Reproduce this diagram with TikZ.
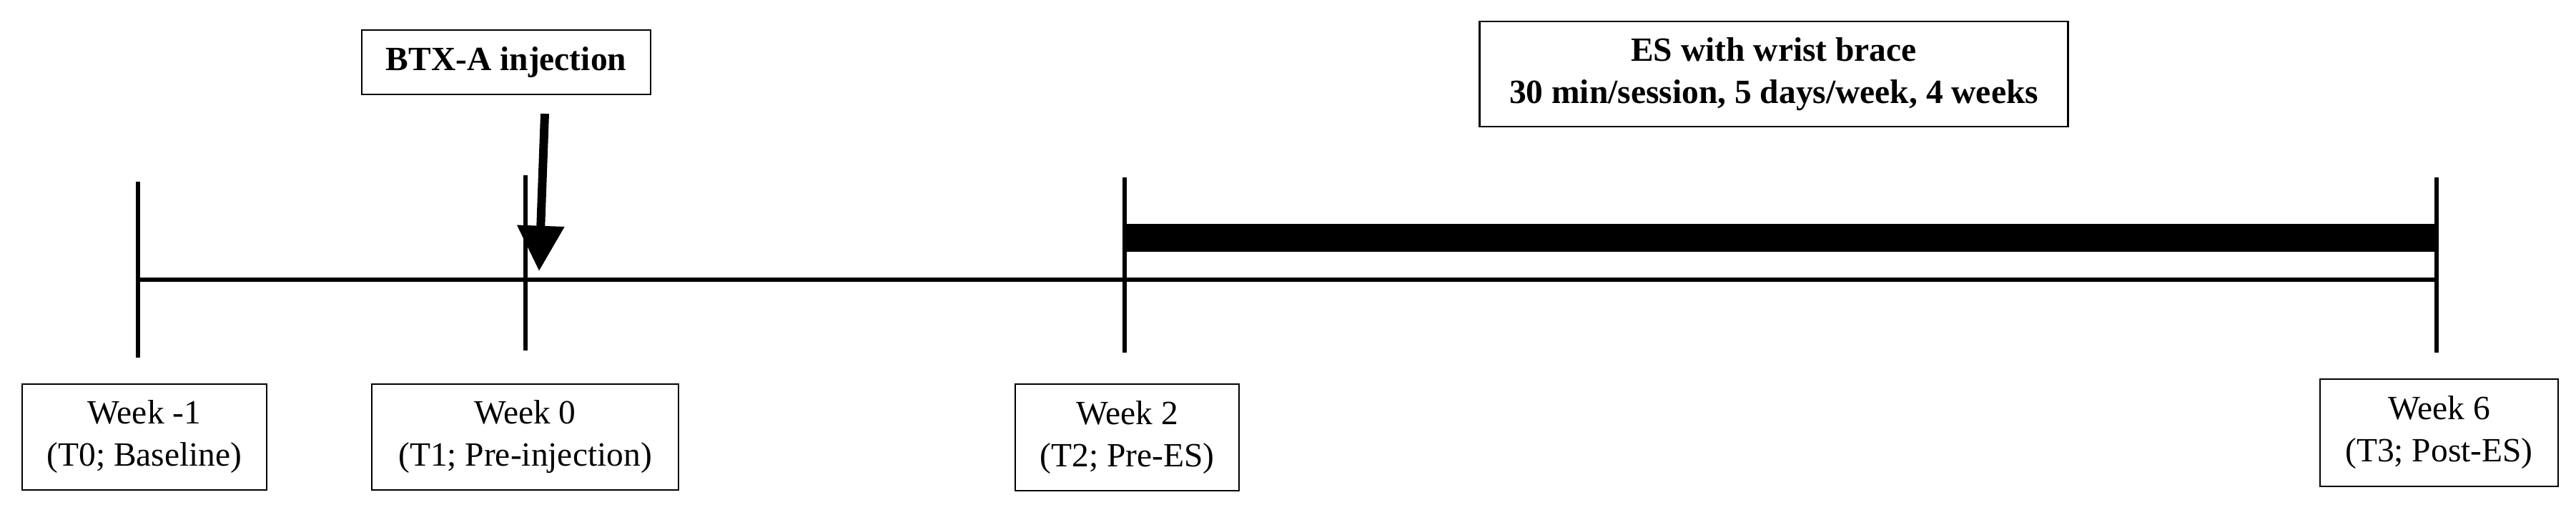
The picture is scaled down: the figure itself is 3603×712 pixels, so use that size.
\documentclass[tikz,border=0pt]{standalone}
\usepackage{fontspec}
\setmainfont{Liberation Serif}
\usetikzlibrary{arrows.meta}
\begin{document}
\begin{tikzpicture}[x=0.01cm,y=-0.01cm,
  box/.style={draw,line width=0.75pt,inner sep=0pt,align=center,font=\fontsize{13.5}{16.8}\selectfont},
  boldbox/.style={box,font=\fontsize{13.5}{16.8}\selectfont\bfseries},
  tickline/.style={line width=1.6pt},
  axisline/.style={line width=1.7pt},
  inject/.style={line width=3.4pt,-{Triangle[width=18pt,length=18pt]}}]
\useasboundingbox (0,0) rectangle (3603,712);
% boxes
\node[box,minimum width=3.42cm,minimum height=1.48cm] (w1) at (202,611) {Week -1\\(T0; Baseline)};
\node[box,minimum width=4.29cm,minimum height=1.48cm] (w0) at (734.5,611) {Week 0\\(T1; Pre-injection)};
\node[box,minimum width=3.13cm,minimum height=1.49cm] (w2) at (1576.5,611.5) {Week 2\\(T2; Pre-ES)};
\node[box,minimum width=3.33cm,minimum height=1.50cm] (w6) at (3411.5,605) {Week 6\\(T3; Post-ES)};
\node[boldbox,minimum width=4.04cm,minimum height=0.90cm] (btx) at (708,87) {BTX-A injection};
\node[boldbox,minimum width=8.22cm,minimum height=1.47cm] (es) at (2481,103.5) {ES with wrist brace\\30 min/session, 5 days/week, 4 weeks};
% coordinates
\coordinate (axL) at (193,391);
\coordinate (axR) at (3408,391);
\coordinate (t0a) at (193,254); \coordinate (t0b) at (193,500);
\coordinate (t1a) at (735,245); \coordinate (t1b) at (735,490);
\coordinate (t2a) at (1573,248); \coordinate (t2b) at (1573,493);
\coordinate (t3a) at (3408,248); \coordinate (t3b) at (3408,493);
\coordinate (barA) at (1573,313); \coordinate (barB) at (3408,352);
\coordinate (arS) at (762,159); \coordinate (arE) at (754,379);
% axis and ticks
\draw[axisline] (axL) -- (axR);
\draw[tickline] (t0a) -- (t0b);
\draw[tickline] (t1a) -- (t1b);
\draw[tickline] (t2a) -- (t2b);
\draw[tickline] (t3a) -- (t3b);
% treatment bar
\fill (barA) rectangle (barB);
% injection arrow
\draw[inject] (arS) -- (arE);
\end{tikzpicture}
\end{document}
